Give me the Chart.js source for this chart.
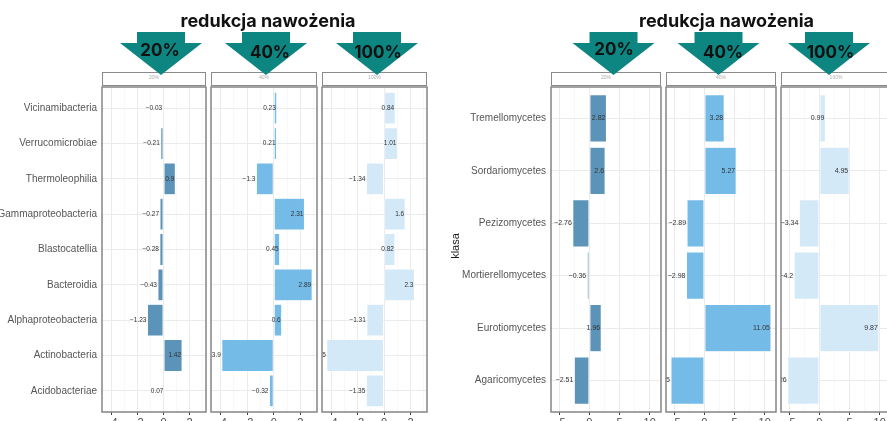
<!DOCTYPE html>
<html>
<head>
<meta charset="utf-8">
<script src="https://cdn.jsdelivr.net/npm/chart.js@4/dist/chart.umd.min.js"></script>
<style>
  html, body { margin: 0; padding: 0; width: 887px; height: 421px; overflow: hidden; background: #fff; }
  body { position: relative; font-family: "Liberation Sans", Arial, sans-serif; }
  canvas { position: absolute; }
  .txt { position: absolute; white-space: nowrap; transform: translate(-50%, -50%); }
  .title { font-family: Inter, "Open Sans", sans-serif; font-weight: 700; font-size: 18px; color: #111; }
  .pct { font-family: Inter, "Open Sans", sans-serif; font-weight: 700; font-size: 17px; color: #111; }
  .strip { position: absolute; box-sizing: border-box; border: 1.5px solid #8a8a8a; background: #fff; height: 14px; top: 72px; }
  .strip span { position: absolute; left: 50%; top: 1px; transform: translateX(-50%); font-size: 5px; color: #aaa; }
  #arrows { position: absolute; left: 0; top: 0; }
  .klasa { font-size: 11px; color: #1a1a1a; transform: translate(-50%, -50%) rotate(-90deg); }
</style>
</head>
<body>
<script>
// bakterie (klasy) - wartosci z wykresu
const bactClasses = ["Acidobacteriae", "Actinobacteria", "Alphaproteobacteria", "Bacteroidia", "Blastocatellia",
  "Gammaproteobacteria", "Thermoleophilia", "Verrucomicrobiae", "Vicinamibacteria"];
const bact20 = [0.07, 1.42, -1.23, -0.43, -0.28, -0.27, 0.9, -0.21, -0.03];
const bact40 = [-0.32, -3.9, 0.6, 2.89, 0.45, 2.31, -1.3, 0.21, 0.23];
const bact100 = [-1.35, -4.35, -1.31, 2.3, 0.82, 1.6, -1.34, 1.01, 0.84];

// grzyby (klasy)
const fungiClasses = ["Agaricomycetes", "Eurotiomycetes", "Mortierellomycetes", "Pezizomycetes",
  "Sordariomycetes", "Tremellomycetes"];
const fungi20 = [-2.51, 1.96, -0.36, -2.76, 2.6, 2.82];
const fungi40 = [-5.55, 11.05, -2.98, -2.89, 5.27, 3.28];
const fungi100 = [-5.26, 9.87, -4.2, -3.34, 4.95, 0.99];

const levels = ["20%", "40%", "100%"];
const bactTicks = [-4, -2, 0, 2];
const bactMinor = [-3, -1, 1, 3];
const fungiTicks = [-5, 0, 5, 10];
const fungiMinor = [-2.5, 2.5, 7.5];

const colors = ["#5b93b9", "#74bbe8", "#d4e9f7"];
const PAD = 3;
const TOP = 87, H = 325;

const fmt = v => String(v).replace("-", "\u2212");

// zakres osi jak w ggplot (5% rozszerzenia)
function range(...arrs) {
  const all = arrs.flat();
  const lo = Math.min(...all), hi = Math.max(...all);
  const e = (hi - lo) * 0.05;
  return [lo - e, hi + e];
}

const panelPlugin = {
  id: "panel",
  afterDatasetsDraw(chart, args, opts) {
    const { ctx, chartArea: a } = chart;
    const vals = chart.data.datasets[0].data;
    ctx.save();
    ctx.beginPath();
    ctx.rect(a.left, a.top, a.width, a.height);
    ctx.clip();
    ctx.font = opts.font;
    ctx.fillStyle = "#333";
    ctx.textAlign = "right";
    ctx.textBaseline = "middle";
    chart.getDatasetMeta(0).data.forEach((bar, i) => {
      ctx.fillText(fmt(vals[i].x), bar.x - 1, bar.y);
    });
    ctx.restore();
  },
  afterDraw(chart) {
    const { ctx, chartArea: a } = chart;
    ctx.save();
    ctx.strokeStyle = "#858585";
    ctx.lineWidth = 1.5;
    ctx.strokeRect(a.left, a.top, a.width, a.height);
    ctx.restore();
  }
};

function panel(o) {
  const lab = o.labelW || 0;
  const c = document.createElement("canvas");
  c.width = o.w + lab + PAD * 2;
  c.height = H + PAD + 30;
  c.style.left = (o.x - lab - PAD) + "px";
  c.style.top = (TOP - PAD) + "px";
  document.body.appendChild(c);

  const major = new Set(o.ticks);
  const xt = o.ticks.concat(o.minor).sort((a, b) => a - b);

  new Chart(c, {
    type: "bar",
    data: {
      datasets: [{
        data: o.values.map((v, i) => ({ x: v, y: i })),
        backgroundColor: o.color,
        borderColor: "#fff",
        borderWidth: 0.5,
        borderSkipped: false,
        barPercentage: 0.9,
        categoryPercentage: 1
      }]
    },
    options: {
      indexAxis: "y",
      responsive: false,
      animation: false,
      devicePixelRatio: 1,
      layout: { padding: { left: PAD, right: PAD, top: PAD, bottom: 0 } },
      plugins: {
        legend: { display: false },
        tooltip: { enabled: false },
        panel: { font: o.labelFont }
      },
      scales: {
        x: {
          type: "linear",
          min: o.xr[0],
          max: o.xr[1],
          offset: false,
          border: { display: false },
          afterBuildTicks: s => { s.ticks = xt.map(v => ({ value: v })); },
          afterFit: s => { s.height = 30; s.paddingLeft = 0; s.paddingRight = 0; },
          grid: {
            offset: false,
            color: ctx => major.has(ctx.tick.value) ? "#ebebeb" : "#f4f4f4",
            lineWidth: ctx => major.has(ctx.tick.value) ? 1 : 0.6,
            tickColor: ctx => major.has(ctx.tick.value) ? "#444" : "rgba(0,0,0,0)",
            tickLength: 3
          },
          ticks: {
            autoSkip: false,
            maxRotation: 0,
            padding: 1,
            color: "#4d4d4d",
            font: { family: "Liberation Sans, Arial, sans-serif", size: 11 },
            callback: v => major.has(v) ? fmt(v) : ""
          }
        },
        y: {
          type: "linear",
          min: -0.6,
          max: o.cats.length - 1 + 0.6,
          offset: false,
          border: { display: false },
          afterBuildTicks: s => { s.ticks = o.cats.map((_, i) => ({ value: i })); },
          afterFit: s => { s.width = lab; s.paddingTop = 0; s.paddingBottom = 0; },
          grid: { offset: false, color: "#ebebeb", lineWidth: 1, drawTicks: false },
          ticks: {
            display: lab > 0,
            autoSkip: false,
            padding: 5,
            color: "#555",
            font: { family: "Liberation Sans, Arial, sans-serif", size: 10 },
            callback: v => o.cats[v]
          }
        }
      }
    },
    plugins: [panelPlugin]
  });
}

const bactRange = range(bact20, bact40, bact100);
const fungiRange = range(fungi20, fungi40, fungi100);

const bactPanels = [[102, 104, bact20], [211, 106, bact40], [322, 105, bact100]];
bactPanels.forEach(([x, w, values], i) => panel({
  x, w, values, cats: bactClasses, color: colors[i], xr: bactRange,
  ticks: bactTicks, minor: bactMinor, labelW: i === 0 ? 112 : 0,
  labelFont: "6.5px 'Liberation Sans', Arial, sans-serif"
}));

const fungiPanels = [[551, 110, fungi20], [666, 110, fungi40], [781, 110, fungi100]];
fungiPanels.forEach(([x, w, values], i) => panel({
  x, w, values, cats: fungiClasses, color: colors[i], xr: fungiRange,
  ticks: fungiTicks, minor: fungiMinor, labelW: i === 0 ? 95 : 0,
  labelFont: "7px 'Liberation Sans', Arial, sans-serif"
}));

// paski nad panelami (facet strips)
bactPanels.concat(fungiPanels).forEach(([x, w], i) => {
  const d = document.createElement("div");
  d.className = "strip";
  d.style.left = x + "px";
  d.style.width = w + "px";
  d.innerHTML = "<span>" + levels[i % 3] + "</span>";
  document.body.appendChild(d);
});

// strzalki "redukcja nawożenia"
const arrowX = [161, 266, 377, 613.5, 718.5, 829];
const svgNS = "http://www.w3.org/2000/svg";
const svg = document.createElementNS(svgNS, "svg");
svg.setAttribute("id", "arrows");
svg.setAttribute("width", 887);
svg.setAttribute("height", 421);
arrowX.forEach(cx => {
  const p = document.createElementNS(svgNS, "polygon");
  const pts = [[cx - 24, 32], [cx + 24, 32], [cx + 24, 43], [cx + 41, 43], [cx, 75], [cx - 41, 43], [cx - 24, 43]];
  p.setAttribute("points", pts.map(q => q.join(",")).join(" "));
  p.setAttribute("fill", "#0d8581");
  svg.appendChild(p);
});
document.body.appendChild(svg);

function text(cls, str, x, y) {
  const d = document.createElement("div");
  d.className = "txt " + cls;
  d.textContent = str;
  d.style.left = x + "px";
  d.style.top = y + "px";
  document.body.appendChild(d);
}

text("title", "redukcja nawożenia", 268, 20);
text("title", "redukcja nawożenia", 726.5, 20);
const pctPos = [[160, 50], [270, 52], [378, 52], [614, 48.5], [723, 52], [830.5, 52]];
pctPos.forEach(([x, y], i) => text("pct", levels[i % 3], x, y));
text("klasa", "klasa", 455, 246);
</script>
</body>
</html>
